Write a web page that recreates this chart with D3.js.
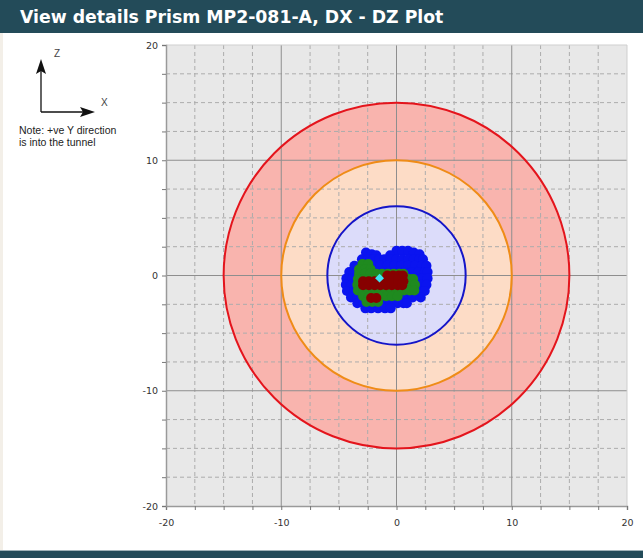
<!DOCTYPE html>
<html>
<head>
<meta charset="utf-8">
<script src="https://cdn.jsdelivr.net/npm/d3@7"></script>
<style>
  body { margin: 0; background: #fff; }
  svg { display: block; }
</style>
</head>
<body>
<svg id="mainsvg" width="643" height="558"></svg>
<script>
// tick labels and grid steps
const labelTicks = [-20, -10, 0, 10, 20];
const gridSteps = [-17.5, -15, -12.5, -7.5, -5, -2.5, 2.5, 5, 7.5, 12.5, 15, 17.5];
const majorLines = [-10, 0, 10];

// tolerance circles: radius, fill, stroke
const rings = [
  { r: 15, fill: '#f9b4ae', stroke: '#e4141c' },
  { r: 10, fill: '#fddcc6', stroke: '#ef8c17' },
  { r: 6, fill: '#dcdcfa', stroke: '#1515c8' }
];

// readings, row by row: [dz, [dx ...]]
const blueRows = [
  [2.15, [0.0, 0.5, 1.0]],
  [2.0, [-2.65, 1.5]],
  [1.85, [-2.15, 2.0]],
  [1.75, [-1.75, -0.55]],
  [1.4, [-3.0, -2.5, -2.0, -1.5, -1.05, -0.5, 0.0, 0.5, 1.0, 1.5, 2.0, 2.3]],
  [0.85, [-3.65, -3.15, -2.6, -2.0, -1.4, -0.8, -0.2, 0.4, 1.0, 1.6, 2.2, 2.6]],
  [0.3, [-4.1, -3.5, -2.9, -2.3, -1.7, -1.1, -0.5, 0.1, 0.7, 1.3, 1.9, 2.45, 2.7]],
  [-0.25, [-4.35, -3.8, -3.2, -2.6, -2.0, -1.4, -0.8, -0.2, 0.4, 1.0, 1.6, 2.2, 2.7]],
  [-0.8, [-4.4, -3.9, -3.3, -2.7, -2.1, -1.5, -0.9, -0.3, 0.3, 0.9, 1.5, 2.1, 2.6]],
  [-1.35, [-4.3, -3.7, -3.1, -2.5, -1.9, -1.3, -0.7, -0.1, 0.5, 1.1, 1.7, 2.3, 2.45]],
  [-1.9, [-3.95, -3.4, -2.8, -2.2, -1.6, -1.0, -0.4, 0.2, 0.8, 1.4, 2.1]],
  [-2.4, [-3.4, -2.9, -2.3, -1.7, -1.1, -0.5, 0.1, 0.6, 0.9]],
  [-2.85, [-2.7, -2.2, -1.6, -1.0, -0.5]]
];
const greenRows = [
  [1.0, [-2.95, -2.45]],
  [0.55, [-3.25, -2.75, -2.25]],
  [0.15, [-3.25, -2.75, -2.25, -1.75, -1.25, -0.75, -0.25, 0.25, 0.6]],
  [-0.3, [-3.35, -2.85, -2.35, -1.85, -1.35, -0.85, -0.35, 0.15, 0.65, 1.1, 1.45]],
  [-0.8, [-3.4, -2.9, -2.4, -1.9, -1.4, -0.9, -0.4, 0.1, 0.6, 1.1, 1.6]],
  [-1.3, [-3.35, -2.85, -2.35, -1.85, -1.35, -0.85, -0.35, 0.15, 0.65, 1.15, 1.55]],
  [-1.8, [-2.9, -2.4, -1.9, -1.4, -0.9, -0.4, 0.1]],
  [-2.3, [-2.6, -2.1, -1.6]]
];
const redRows = [
  [0.0, [-0.8, -0.3, 0.2, 0.55]],
  [-0.5, [-2.9, -2.4, -1.9, -1.4, -0.9, -0.4, 0.1, 0.6]],
  [-0.85, [-2.9, -2.4, -1.9, -1.4, -0.9, -0.4, 0.1, 0.5]],
  [-1.95, [-2.2, -1.75]]
];
const latest = [-1.47, -0.23];

const svg = d3.select('#mainsvg'),
  width = +svg.attr('width'),
  height = +svg.attr('height');

// page chrome
svg.append('rect').attr('width', width).attr('height', height).attr('fill', '#fff');
svg.append('rect').attr('width', 3).attr('height', height).attr('fill', '#f3efe8');
svg.append('rect').attr('width', width).attr('height', 33).attr('fill', '#234b59');
svg.append('text')
  .text('View details Prism MP2-081-A, DX - DZ Plot')
  .attr('x', 20).attr('y', 23)
  .attr('fill', '#fff')
  .attr('font-family', 'DejaVu Sans, Verdana, sans-serif')
  .attr('font-weight', 'bold')
  .attr('font-size', '17.3px');
svg.append('rect').attr('y', 550).attr('width', width).attr('height', 8).attr('fill', '#234b59');
svg.append('rect').attr('y', 550).attr('width', width).attr('height', 1).attr('fill', '#9fb2b8');

// orientation sketch
const note = svg.append('g').attr('fill', '#222').attr('font-family', 'Liberation Sans, Arial, sans-serif');
note.append('line').attr('x1', 41).attr('y1', 112).attr('x2', 41).attr('y2', 68).attr('stroke', '#111').attr('stroke-width', 1.3);
note.append('line').attr('x1', 41).attr('y1', 112).attr('x2', 86).attr('y2', 112).attr('stroke', '#111').attr('stroke-width', 1.3);
note.append('path').attr('d', 'M41,59 L46,74 L41,71 L36,74 Z').attr('fill', '#111');
note.append('path').attr('d', 'M95,112 L80,117 L83,112 L80,107 Z').attr('fill', '#111');
note.append('text').text('Z').attr('x', 54).attr('y', 57).attr('font-size', '10px').attr('fill', '#444');
note.append('text').text('X').attr('x', 101).attr('y', 106).attr('font-size', '10px').attr('fill', '#444');
note.append('text').text('Note: +ve Y direction').attr('x', 19).attr('y', 134).attr('font-size', '10.5px');
note.append('text').text('is into the tunnel').attr('x', 19).attr('y', 146).attr('font-size', '10.5px');

// plot
const x = d3.scaleLinear().domain([-20, 20]).range([166, 627]);
const y = d3.scaleLinear().domain([-20, 20]).range([506, 45]);
const g = svg.append('g');

g.append('rect')
  .attr('x', x(-20)).attr('y', y(20))
  .attr('width', x(20) - x(-20)).attr('height', y(-20) - y(20))
  .attr('fill', '#e8e8e8');

g.selectAll('circle.ring').data(rings).join('circle')
  .attr('class', 'ring')
  .attr('cx', x(0)).attr('cy', y(0))
  .attr('r', d => x(d.r) - x(0))
  .attr('fill', d => d.fill);

// grid
const grid = g.append('g');
grid.selectAll('line.vm').data(gridSteps).join('line')
  .attr('x1', d => x(d)).attr('x2', d => x(d)).attr('y1', y(20)).attr('y2', y(-20))
  .attr('stroke', '#acacac').attr('stroke-dasharray', '4,3');
grid.selectAll('line.hm').data(gridSteps).join('line')
  .attr('y1', d => y(d)).attr('y2', d => y(d)).attr('x1', x(-20)).attr('x2', x(20))
  .attr('stroke', '#acacac').attr('stroke-dasharray', '4,3');
grid.selectAll('line.vM').data(majorLines).join('line')
  .attr('x1', d => x(d)).attr('x2', d => x(d)).attr('y1', y(20)).attr('y2', y(-20))
  .attr('stroke', '#8e8e8e');
grid.selectAll('line.hM').data(majorLines).join('line')
  .attr('y1', d => y(d)).attr('y2', d => y(d)).attr('x1', x(-20)).attr('x2', x(20))
  .attr('stroke', '#8e8e8e');

g.selectAll('circle.edge').data(rings).join('circle')
  .attr('class', 'edge')
  .attr('cx', x(0)).attr('cy', y(0))
  .attr('r', d => x(d.r) - x(0))
  .attr('fill', 'none')
  .attr('stroke', d => d.stroke)
  .attr('stroke-width', 2);

// frame
g.append('line').attr('x1', x(-20)).attr('x2', x(20)).attr('y1', y(20)).attr('y2', y(20)).attr('stroke', '#cfcfcf');
g.append('line').attr('x1', x(20)).attr('x2', x(20)).attr('y1', y(20)).attr('y2', y(-20)).attr('stroke', '#cfcfcf');

// axes
const allTicks = [-20].concat(gridSteps.slice(0, 3), [-10], gridSteps.slice(3, 6), [0], gridSteps.slice(6, 9), [10], gridSteps.slice(9), [20]);
const fmt = d => (labelTicks.includes(d) ? String(d) : '');
const xAxis = d3.axisBottom(x).tickValues(allTicks).tickFormat(fmt).tickSize(4).tickPadding(9);
const yAxis = d3.axisLeft(y).tickValues(allTicks).tickFormat(fmt).tickSize(4).tickPadding(4);

const xa = g.append('g').attr('transform', `translate(0,${y(-20)})`).call(xAxis);
const ya = g.append('g').attr('transform', `translate(${x(-20)},0)`).call(yAxis);
[xa, ya].forEach(a => {
  a.select('.domain').attr('stroke', '#9a9a9a').attr('stroke-width', 1.5);
  a.selectAll('.tick line').attr('stroke', '#777');
  a.selectAll('.tick text')
    .attr('fill', '#333')
    .attr('font-family', 'DejaVu Sans, Verdana, sans-serif')
    .attr('font-size', '9.5px');
});

// readings
const flatten = rows => rows.flatMap(([dz, xs]) => xs.map(dx => [dx, dz]));
const layers = [
  { pts: flatten(blueRows), color: '#0a14f0' },
  { pts: flatten(greenRows), color: '#1f8a1f' },
  { pts: flatten(redRows), color: '#870000' }
];
layers.forEach(layer => {
  g.append('g').selectAll('circle').data(layer.pts).join('circle')
    .attr('cx', d => x(d[0]))
    .attr('cy', d => y(d[1]))
    .attr('r', 5)
    .attr('fill', layer.color);
});

// latest reading: square turned 45 degrees
g.append('path')
  .attr('d', d3.symbol(d3.symbolSquare, 40)())
  .attr('transform', `translate(${x(latest[0])},${y(latest[1])}) rotate(45)`)
  .attr('fill', '#3fe6f2');
</script>
</body>
</html>
